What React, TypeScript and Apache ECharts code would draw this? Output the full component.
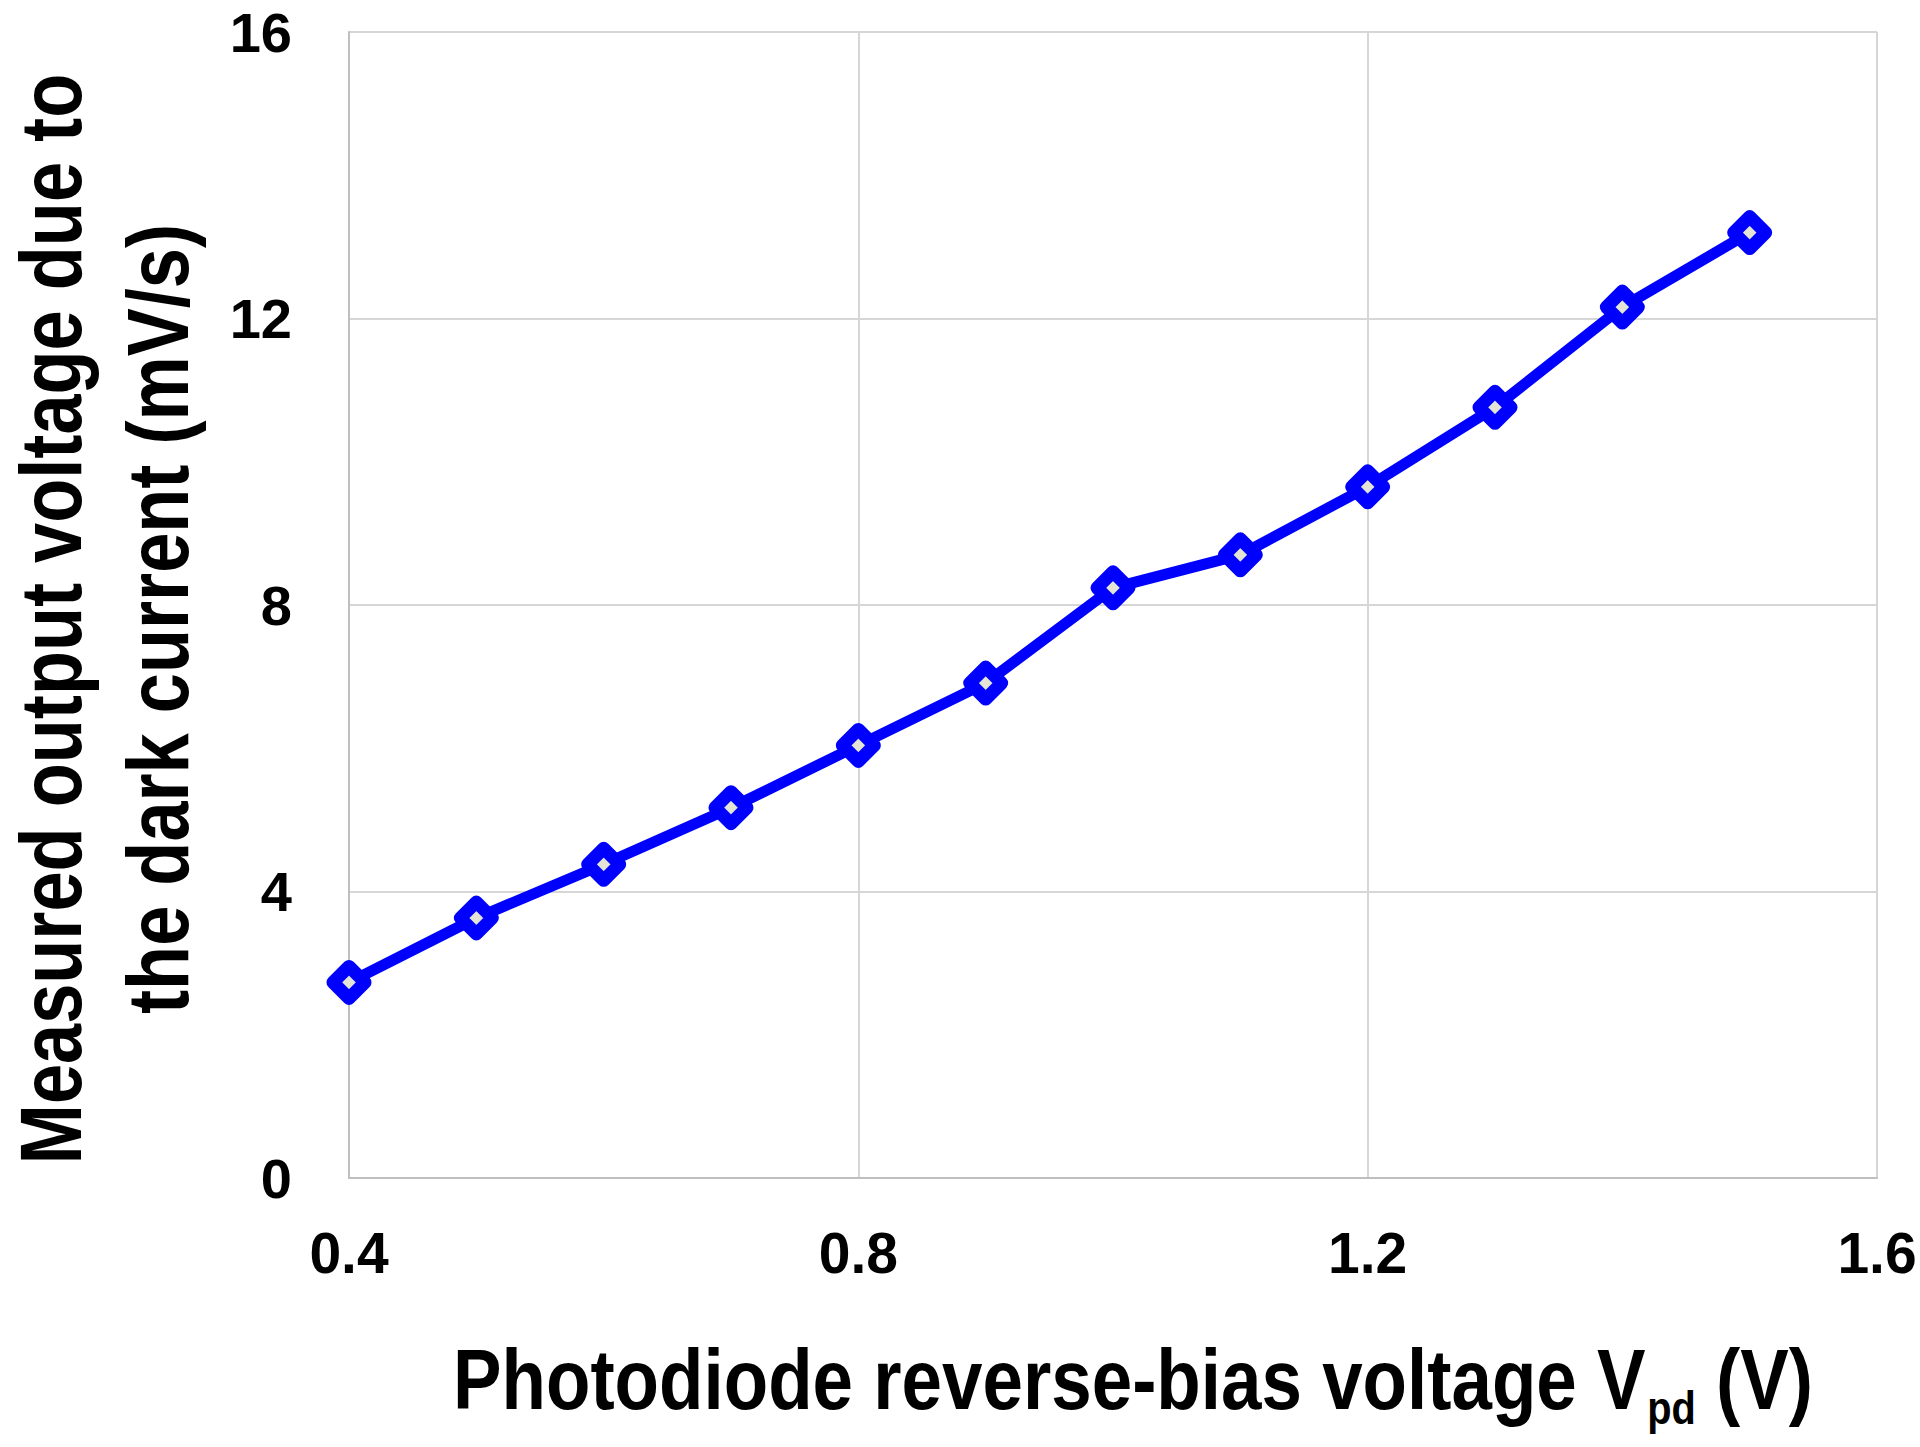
import React, { useEffect, useRef } from "react";
import * as echarts from "echarts";

// Photodiode reverse-bias voltage Vpd (V)
const biasVoltages = [0.4, 0.5, 0.6, 0.7, 0.8, 0.9, 1.0, 1.1, 1.2, 1.3, 1.4, 1.5];
// Measured output voltage due to the dark current (mV/s)
const darkOutput = [2.73, 3.63, 4.38, 5.17, 6.04, 6.91, 8.24, 8.7, 9.65, 10.76, 12.16, 13.2];

const xAxisRange = { min: 0.4, max: 1.6, interval: 0.4 };
const yAxisRange = { min: 0, max: 16, interval: 4 };

const yTitleLines = ["Measured output voltage due to", "the dark current (mV/s)"];
const xTitleMain = "Photodiode reverse-bias voltage V";
const xTitleSub = "pd";
const xTitleTail = " (V)";

const FONT = "'Liberation Sans Narrow', 'Arial Narrow', 'Liberation Sans', Arial, sans-serif";

export default function App() {
  const ref = useRef<HTMLDivElement>(null);

  useEffect(() => {
    if (!ref.current) return;
    const chart = echarts.init(ref.current, undefined, { renderer: "svg" });
    const data = biasVoltages.map((x, i) => [x, darkOutput[i]]);

    const yTitleStyle = {
      fontFamily: FONT,
      fontWeight: "bold",
      fontSize: 88,
      lineHeight: 70,
      fill: "#000",
      align: "center",
      verticalAlign: "middle",
    };

    chart.setOption({
      animation: false,
      backgroundColor: "#ffffff",
      grid: { left: 349, right: 43, top: 32, bottom: 269, containLabel: false },
      xAxis: {
        type: "value",
        min: xAxisRange.min,
        max: xAxisRange.max,
        interval: xAxisRange.interval,
        axisLine: { show: true, lineStyle: { color: "#bfbfbf", width: 2 } },
        axisTick: { show: false },
        splitLine: { show: true, lineStyle: { color: "#d6d6d6", width: 2 } },
        axisLabel: {
          margin: 46,
          color: "#000",
          fontFamily: FONT,
          fontWeight: "bold",
          fontSize: 57,
          formatter: (v: number) => v.toFixed(1),
        },
      },
      yAxis: {
        type: "value",
        min: yAxisRange.min,
        max: yAxisRange.max,
        interval: yAxisRange.interval,
        axisLine: { show: true, lineStyle: { color: "#bfbfbf", width: 2 } },
        axisTick: { show: false },
        splitLine: { show: true, lineStyle: { color: "#d6d6d6", width: 2 } },
        axisLabel: {
          margin: 57,
          color: "#000",
          fontFamily: FONT,
          fontWeight: "bold",
          fontSize: 56,
          lineHeight: 48,
        },
      },
      series: [
        {
          type: "line",
          data,
          lineStyle: { color: "#0000ff", width: 11, join: "round" },
          symbol: "diamond",
          symbolSize: 32,
          itemStyle: {
            color: "#e4e4d6",
            borderColor: "#0000ff",
            borderWidth: 13,
            borderJoin: "round",
          },
          z: 3,
        },
      ],
      graphic: [
        {
          type: "text",
          x: 50,
          y: 619,
          rotation: Math.PI / 2,
          scaleX: 0.82,
          style: { ...yTitleStyle, text: yTitleLines[0] },
        },
        {
          type: "text",
          x: 157,
          y: 619,
          rotation: Math.PI / 2,
          scaleX: 0.82,
          style: { ...yTitleStyle, text: yTitleLines[1] },
        },
        {
          type: "text",
          x: 1133,
          y: 1336,
          scaleX: 0.846,
          style: {
            text: `{m|${xTitleMain}}{s|${xTitleSub}}{m|${xTitleTail}}`,
            fontFamily: FONT,
            fontWeight: "bold",
            fill: "#000",
            align: "center",
            verticalAlign: "top",
            rich: {
              m: {
                fontFamily: FONT,
                fontWeight: "bold",
                fontSize: 86,
                lineHeight: 86,
                verticalAlign: "top",
                fill: "#000",
              },
              s: {
                fontFamily: FONT,
                fontWeight: "bold",
                fontSize: 47,
                lineHeight: 47,
                padding: [48, 0, 0, 2],
                verticalAlign: "top",
                fill: "#000",
              },
            },
          },
        },
      ],
    });

    return () => chart.dispose();
  }, []);

  return (
    <div
      ref={ref}
      style={{ position: "fixed", left: 0, top: 0, width: 1920, height: 1447, background: "#fff" }}
    />
  );
}
